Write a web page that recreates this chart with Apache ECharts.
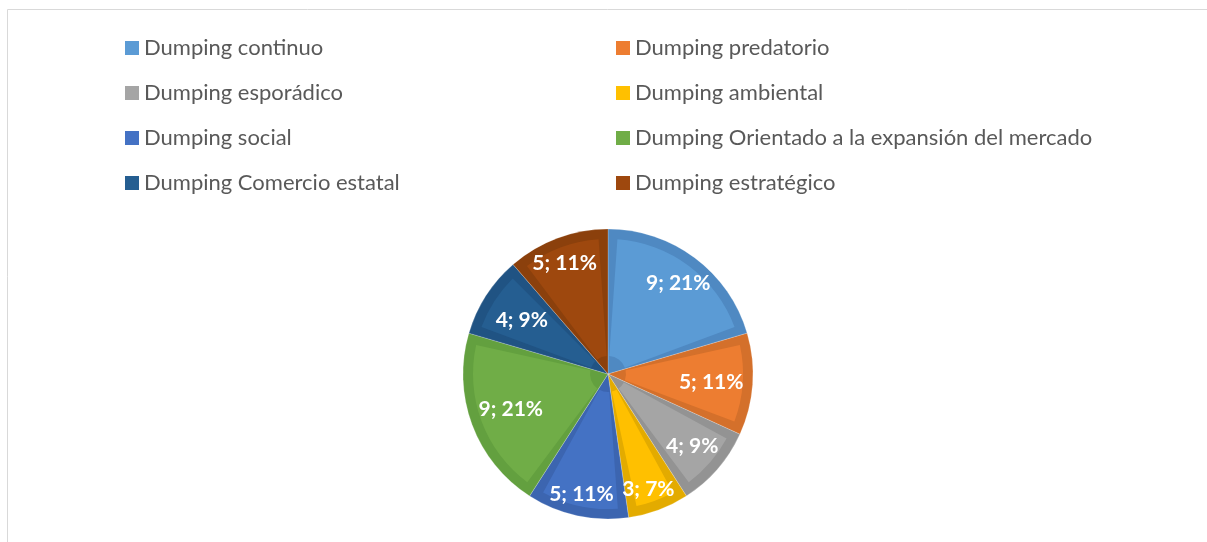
<!DOCTYPE html>
<html>
<head>
<meta charset="utf-8">
<script src="https://cdn.jsdelivr.net/npm/echarts@6/dist/echarts.min.js"></script>
<style>
  html, body { margin: 0; padding: 0; background: #fff; }
  #chart { width: 1207px; height: 542px; }
</style>
</head>
<body>
<div id="chart"></div>
<script>
// categories and counts
const categories = [
  'Dumping continuo',
  'Dumping predatorio',
  'Dumping esporádico',
  'Dumping ambiental',
  'Dumping social',
  'Dumping Orientado a la expansión del mercado',
  'Dumping Comercio estatal',
  'Dumping estratégico'
]
const counts = [9, 5, 4, 3, 5, 9, 4, 5]

// legend columns (as in the original two-column layout)
const leftColumn = [categories[0], categories[2], categories[4], categories[6]]
const rightColumn = [categories[1], categories[3], categories[5], categories[7]]

// slice colours: face and bevel edge
const faceColors = ['#5B9BD5', '#ED7D31', '#A5A5A5', '#FFC000', '#4472C4', '#70AD47', '#255E91', '#9E480E']
const edgeColors = ['#4F89C2', '#D4702B', '#939393', '#E3AB00', '#3C65B0', '#63A03F', '#205383', '#8B400C']

// small nudges so the data labels sit where Excel's best-fit put them
const labelNudges = [[1, 2], [-12, 0], [-3, -3], [0, 7], [-2, 7], [11, -5], [11, 9], [-3, -3]]

const chart = echarts.init(document.getElementById('chart'))

const makeData = (colors) => categories.map((name, i) => ({
  name,
  value: counts[i],
  itemStyle: { color: colors[i] }
}))

const legendData = (names) => names.map(name => ({
  name,
  itemStyle: { color: faceColors[categories.indexOf(name)] }
}))

const legendBase = {
  orient: 'vertical',
  top: 37,
  padding: 0,
  itemWidth: 14,
  itemHeight: 14,
  itemGap: 23,
  icon: 'rect',
  selectedMode: false,
  textStyle: {
    fontFamily: 'Lato',
    fontSize: 22,
    lineHeight: 22,
    color: '#595959'
  }
}

const option = {
  animation: false,
  graphic: [
    {
      type: 'rect',
      shape: { x: 7.5, y: 9.5, width: 1300, height: 600 },
      style: { fill: 'none', stroke: '#d9d9d9', lineWidth: 1 },
      silent: true
    }
  ],
  legend: [
    Object.assign({}, legendBase, { left: 125, data: legendData(leftColumn) }),
    Object.assign({}, legendBase, { left: 616, data: legendData(rightColumn) })
  ],
  series: [
    {
      // bevel face
      name: 'face',
      type: 'pie',
      z: 3,
      center: [608, 374],
      radius: [18, 135],
      padAngle: 8,
      silent: true,
      label: { show: false },
      labelLine: { show: false },
      data: makeData(faceColors)
    },
    {
      // outer edge of each slice
      name: 'edge',
      type: 'pie',
      z: 2,
      center: [608, 374],
      radius: [0, 145],
      silent: true,
      label: { show: false },
      labelLine: { show: false },
      itemStyle: { borderWidth: 0.5, borderColor: 'rgba(255,255,255,0.4)' },
      data: makeData(edgeColors)
    },
    {
      // data labels
      name: 'labels',
      type: 'pie',
      z: 4,
      center: [608, 374],
      radius: [80, 145],
      silent: true,
      percentPrecision: 0,
      itemStyle: { color: 'transparent' },
      label: {
        show: true,
        position: 'inside',
        formatter: '{c}; {d}%',
        color: '#fff',
        fontFamily: 'Lato',
        fontWeight: 'bold',
        fontSize: 21
      },
      labelLine: { show: false },
      data: categories.map((name, i) => ({
        name,
        value: counts[i],
        label: { offset: labelNudges[i] }
      }))
    }
  ]
}

chart.setOption(option)
</script>
</body>
</html>
